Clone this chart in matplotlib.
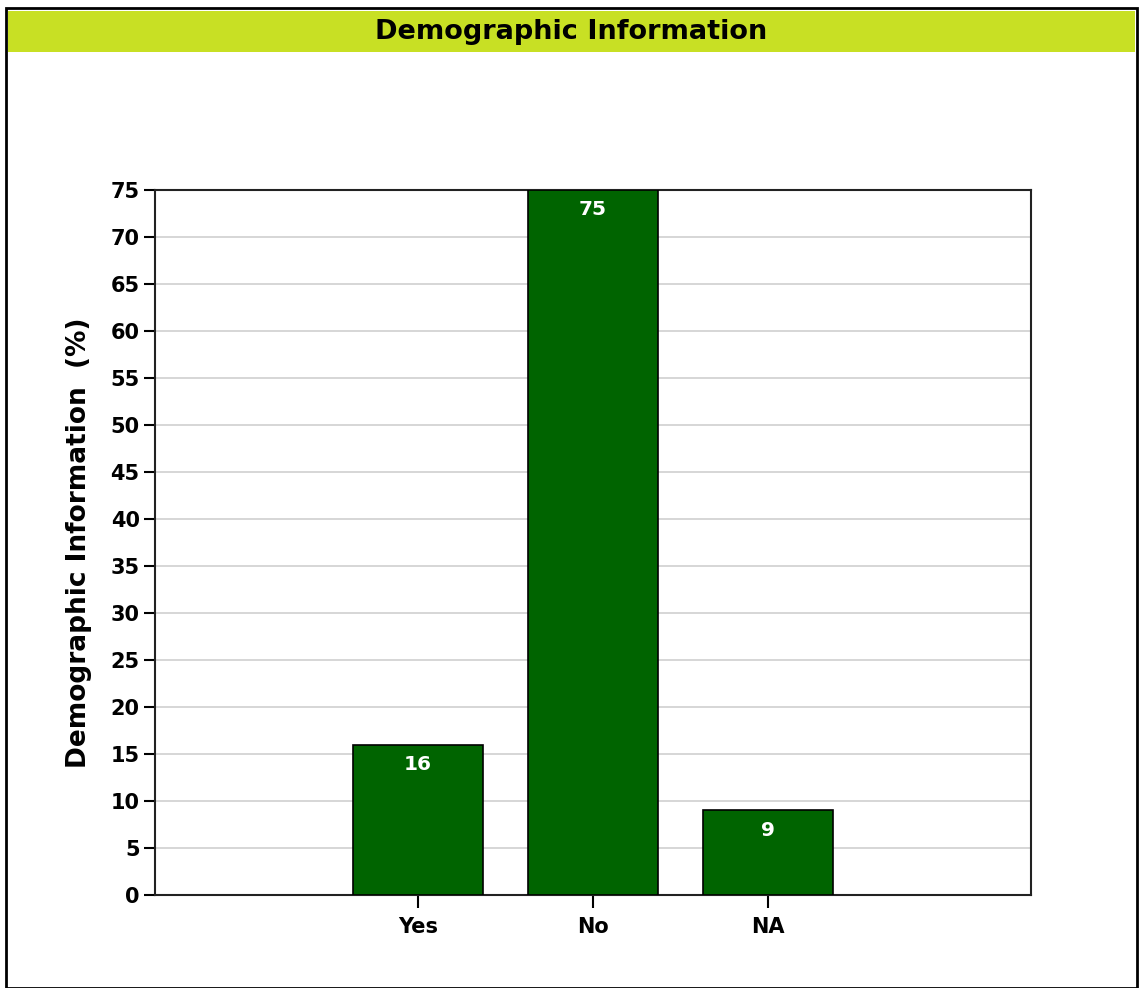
import matplotlib
matplotlib.use("Agg")
import matplotlib.pyplot as plt
from matplotlib.patches import Rectangle

categories = ["Yes", "No", "NA"]
values = [16, 75, 9]
yticks = list(range(0, 80, 5))
title = "Demographic Information"
ylabel = "Demographic Information  (%)"

plt.rcParams['font.family'] = ['DejaVu Sans']

W, H = 1140, 988
fig = plt.figure(figsize=(W/100, H/100), dpi=100)

# outer border
fig.patches.append(Rectangle((6/W, 0), (1137-6)/W, (988-8)/H, transform=fig.transFigure,
                             fill=False, edgecolor='black', linewidth=2, zorder=0))
# title bar
fig.patches.append(Rectangle((8/W, 1-52/H), (1135-8)/W, (52-11)/H, transform=fig.transFigure,
                             facecolor='#c8e024', edgecolor='none', zorder=1))
fig.text((8+1135)/2/W, 1-32/H, title, ha='center', va='center', fontsize=19.5,
         fontweight='bold', color='black')

ax = fig.add_axes([155/W, 1-895/H, (1031-155)/W, (895-190)/H])
x = list(range(len(categories)))
bars = ax.bar(x, values, width=0.74, color='#006400', edgecolor='black', linewidth=1.2, zorder=3)
for xi, v in zip(x, values):
    ax.text(xi, v - 1.1, str(v), ha='center', va='top', color='white', fontsize=14.5,
            fontweight='bold', zorder=4)

ax.set_xlim(-1.5, 2.5 + 1.0)
ax.set_ylim(0, 75)
ax.set_yticks(yticks)
ax.set_xticks(x)
ax.set_xticklabels(categories)
ax.yaxis.grid(True, color='#d0d0d0', linewidth=1.2, zorder=0)
ax.set_axisbelow(True)
for s in ax.spines.values():
    s.set_linewidth(1.5)
    s.set_color('#222222')
ax.tick_params(axis='y', length=8, width=1.5, labelsize=15, pad=3)
ax.tick_params(axis='x', length=9, width=1.5, labelsize=15, pad=7)
for lab in ax.get_xticklabels() + ax.get_yticklabels():
    lab.set_fontweight('bold')
ax.set_ylabel(ylabel, fontsize=19, fontweight='bold', labelpad=13)

fig.savefig("out.png", dpi=100)
